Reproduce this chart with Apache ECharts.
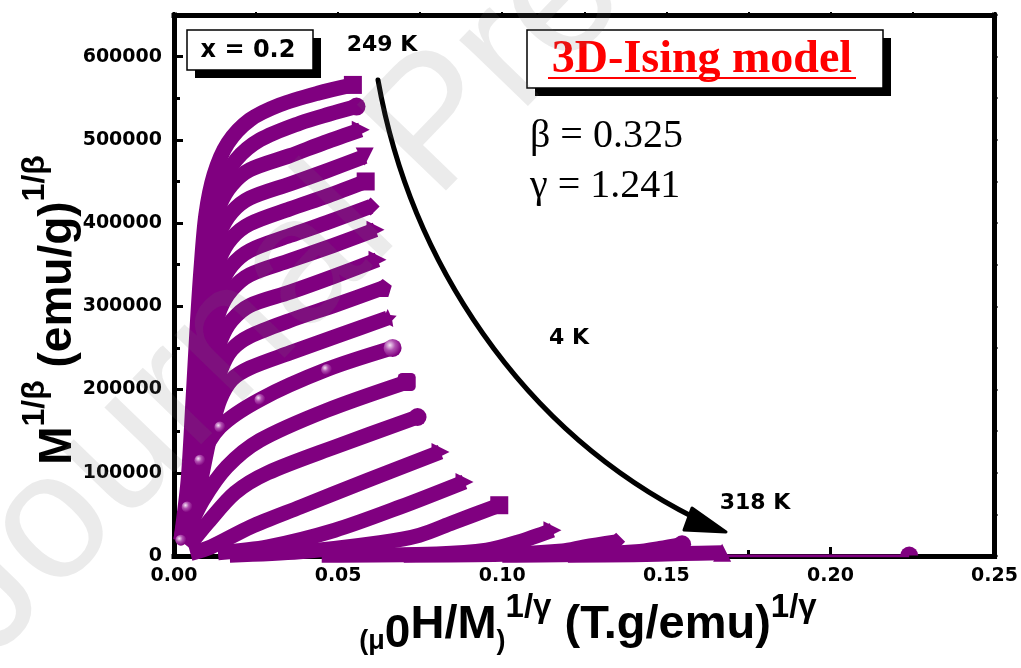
<!DOCTYPE html>
<html>
<head>
<meta charset="utf-8">
<script src="https://cdn.jsdelivr.net/npm/echarts@6/dist/echarts.min.js"></script>
<style>
html,body{margin:0;padding:0;background:#fff}
#chart{width:1021px;height:668px}
</style>
</head>
<body>
<div id="chart"></div>
<script>
// Tick labels
const xTickLabels = ['0.00', '0.05', '0.10', '0.15', '0.20', '0.25'];
const yTickLabels = ['0', '100000', '200000', '300000', '400000', '500000', '600000'];

// Modified Arrott isotherms, coldest first: [ (μ0H/M)^(1/γ), M^(1/β) ]
const iso01 = [[0.0021,19000],[0.0043,91000],[0.0058,188000],[0.0070,272000],[0.0082,344000],[0.0097,410000],[0.0122,458000],[0.0164,496000],[0.0231,524000],[0.0322,542000],[0.0438,556000],[0.0545,566000]];
const iso02 = [[0.0043,43000],[0.0064,127000],[0.0079,236000],[0.0094,332000],[0.0116,404000],[0.0146,446000],[0.0189,476000],[0.0262,500000],[0.0383,520000],[0.0474,531000],[0.0556,540000]];
const iso03 = [[0.0036,43000],[0.0058,127000],[0.0079,224000],[0.0097,320000],[0.0116,386000],[0.0140,422000],[0.0176,446000],[0.0231,464000],[0.0353,481000],[0.0460,497000],[0.0569,512000]];
const iso04 = [[0.0033,31000],[0.0055,97000],[0.0076,194000],[0.0097,290000],[0.0116,353000],[0.0140,389000],[0.0176,413000],[0.0231,430000],[0.0353,447000],[0.0467,463000],[0.0581,480000]];
const iso05 = [[0.0049,73000],[0.0073,170000],[0.0094,260000],[0.0116,320000],[0.0140,358000],[0.0176,382000],[0.0231,399000],[0.0353,417000],[0.0470,433000],[0.0584,450000]];
const iso06 = [[0.0046,55000],[0.0070,145000],[0.0094,230000],[0.0116,286000],[0.0140,323000],[0.0176,349000],[0.0231,367000],[0.0353,385000],[0.0476,402000],[0.0599,420000]];
const iso07 = [[0.0049,49000],[0.0073,133000],[0.0097,212000],[0.0119,262000],[0.0140,296000],[0.0176,320000],[0.0231,338000],[0.0353,355000],[0.0484,373000],[0.0614,392000]];
const iso08 = [[0.0049,34000],[0.0073,109000],[0.0097,182000],[0.0119,226000],[0.0143,260000],[0.0176,283000],[0.0231,301000],[0.0353,317000],[0.0487,336000],[0.0620,356000]];
const iso09 = [[0.0043,19000],[0.0070,79000],[0.0097,145000],[0.0119,190000],[0.0143,224000],[0.0176,248000],[0.0231,264000],[0.0353,283000],[0.0495,302000],[0.0636,322000]];
const iso10 = [[0.0064,53000],[0.0091,109000],[0.0116,155000],[0.0140,188000],[0.0176,212000],[0.0231,226000],[0.0353,244000],[0.0502,265000],[0.0651,286000]];
const iso11 = [[0.0021,19000],[0.0040,59000],[0.0079,115000],[0.0140,155000],[0.0262,188000],[0.0465,224000],[0.0666,250000]];
const iso12 = [[0.0040,28000],[0.0088,67000],[0.0161,107000],[0.0262,139000],[0.0465,175000],[0.0709,209000]];
const iso13 = [[0.0043,11000],[0.0103,40000],[0.0186,76000],[0.0286,100000],[0.0490,131000],[0.0742,167000]];
const iso14 = [[0.0050,3000],[0.0113,11000],[0.0234,35000],[0.0386,59000],[0.0590,91000],[0.0812,125000]];
const iso15 = [[0.0134,4000],[0.0286,11000],[0.0490,31000],[0.0690,59000],[0.0885,89000]];
const iso16 = [[0.0170,1000],[0.0383,5000],[0.0627,16000],[0.0748,25000],[0.0849,40000],[0.0991,61000]];
const iso17 = [[0.0450,1000],[0.0800,2500],[0.0952,7000],[0.1050,17000],[0.1153,31000]];
const iso18 = [[0.0700,1000],[0.1000,2000],[0.1183,6000],[0.1250,11000],[0.1347,17000]];
const iso19 = [[0.1000,800],[0.1250,2000],[0.1408,5000],[0.1480,9000],[0.1548,14000]];
const iso20 = [[0.1200,800],[0.1400,1500],[0.1550,3000],[0.1670,4000]];
const iso21 = [[0.1500,0],[0.1750,0],[0.2000,0],[0.2240,0]];

const isotherms = [iso01, iso02, iso03, iso04, iso05, iso06, iso07, iso08, iso09, iso10, iso11,
                   iso12, iso13, iso14, iso15, iso16, iso17, iso18, iso19, iso20, iso21];

// Marker shapes per isotherm (drawn at the high-field end of each band)
const STAR = 'path://M0,-10L2.9,-4L9.5,-3.1L4.8,1.5L5.9,8.1L0,5L-5.9,8.1L-4.8,1.5L-9.5,-3.1L-2.9,-4Z';
const PENT = 'path://M0,-10L9.5,-3.1L5.9,8.1L-5.9,8.1L-9.5,-3.1Z';
const DOME = 'path://M-10,0A10,10 0 0 1 10,0Z';
const markerShape = ['rect','circle','triangle','triangle','rect','diamond','triangle','triangle',PENT,STAR,'circle',
                     'roundRect','circle','triangle','triangle','rect','triangle','diamond','circle','triangle',DOME];
const markerTurn = [0,0,-90,180,0,0,-90,-90,0,0,0, 0,0,-90,-90,0,-90,0,0,0,0];

const PURPLE = '#800080';
const BALL = 10;
const ball = {type:'radial', x:0.35, y:0.35, r:0.65,
  colorStops:[{offset:0,color:'#f4e4f4'},{offset:0.45,color:'#b050b0'},{offset:1,color:PURPLE}]};

const series = isotherms.map((d, i) => {
  const last = i === isotherms.length - 1;
  const endSize = last ? [18, 9] : 18;
  return {
    type: 'line',
    data: d.map((p, j) => ({
      value: p,
      symbolSize: j === d.length - 1 ? endSize : (i === BALL ? 11 : 0)
    })),
    smooth: 0.3,
    symbol: markerShape[i],
    symbolRotate: markerTurn[i],
    symbolOffset: last ? [0, -5] : [0, 0],
    showAllSymbol: true,
    clip: true,
    lineStyle: {color: PURPLE, width: last ? 3 : 15, cap: 'butt', join: 'round'},
    itemStyle: {color: i === BALL ? ball : PURPLE},
    z: 3
  };
});

const tickFont = {fontFamily: 'DejaVu Sans', fontWeight: 'bold', fontSize: 19, color: '#000'};
const frameLine = {show: true, onZero: false, lineStyle: {color: '#000', width: 5, cap: 'square'}};
const tickIn = {show: true, inside: true, length: 9, lineStyle: {color: '#000', width: 3}};
const minorIn = {show: true, splitNumber: 2, length: 6, lineStyle: {color: '#000', width: 3}};
const tickOut = {show: true, inside: false, length: 3, lineStyle: {color: '#000', width: 2}};
const minorOut = {show: true, splitNumber: 2, length: 3, lineStyle: {color: '#000', width: 2}};

const xBase = {type: 'value', min: 0, max: 0.25, interval: 0.05, splitLine: {show: false}, axisLine: frameLine};
const yBase = {type: 'value', min: 0, max: 650000, interval: 100000, splitLine: {show: false}, axisLine: frameLine};

const txt = (x, y, text, size, extra) => ({type: 'text', x: x, y: y, z: 12, style: Object.assign({
  text: text, fontFamily: 'DejaVu Sans', fontWeight: 'bold', fontSize: size, fill: '#000',
  align: 'center', verticalAlign: 'middle'}, extra || {})});

const option = {
  animation: false,
  backgroundColor: '#fff',
  grid: {left: 174, right: 25, top: 15, bottom: 112, containLabel: false},
  xAxis: [
    Object.assign({}, xBase, {position: 'bottom', axisTick: tickIn, minorTick: minorIn,
      axisLabel: Object.assign({margin: 11, formatter: v => {
        const k = Math.round(v / 0.05);
        return Math.abs(v - k * 0.05) < 1e-9 ? xTickLabels[k] : '';
      }}, tickFont)}),
    Object.assign({}, xBase, {position: 'top', axisTick: tickOut, minorTick: minorOut, axisLabel: {show: false}})
  ],
  yAxis: [
    Object.assign({}, yBase, {position: 'left', axisTick: tickIn, minorTick: minorIn,
      axisLabel: Object.assign({margin: 12, formatter: v => {
        const k = Math.round(v / 100000);
        return (k * 100000 === v && k < yTickLabels.length) ? yTickLabels[k] : '';
      }}, tickFont)}),
    Object.assign({}, yBase, {position: 'right', axisTick: tickOut, minorTick: minorOut, axisLabel: {show: false}})
  ],
  series: series,
  graphic: [
    // sample label
    {type: 'rect', shape: {x: 195, y: 38, width: 126, height: 40}, style: {fill: '#000'}, z: 10},
    {type: 'rect', shape: {x: 187, y: 30, width: 126, height: 40}, style: {fill: '#fff', stroke: '#000', lineWidth: 1.5}, z: 11},
    txt(248, 51, 'x = 0.2', 24),
    // model label
    {type: 'rect', shape: {x: 535, y: 38, width: 356, height: 58}, style: {fill: '#000'}, z: 10},
    {type: 'rect', shape: {x: 527, y: 30, width: 356, height: 58}, style: {fill: '#fff', stroke: '#000', lineWidth: 1.5}, z: 11},
    txt(702, 60, '3D-Ising model', 46, {fontFamily: 'Liberation Serif', fill: '#ff0000'}),
    {type: 'line', z: 12, shape: {x1: 548, y1: 78, x2: 856, y2: 78}, style: {stroke: '#ff0000', lineWidth: 2}},
    // exponents
    txt(530, 136, 'β = 0.325', 40, {fontFamily: 'Liberation Serif', fontWeight: 'normal', align: 'left'}),
    txt(530, 186, 'γ = 1.241', 40, {fontFamily: 'Liberation Serif', fontWeight: 'normal', align: 'left'}),
    // temperature arrow
    {type: 'bezierCurve', z: 12, shape: {x1: 378, y1: 80, cpx1: 410, cpy1: 260, cpx2: 520, cpy2: 430, x2: 695, y2: 518},
      style: {stroke: '#000', lineWidth: 5, fill: null, lineCap: 'round'}},
    {type: 'polygon', z: 12, shape: {points: [[692, 508], [684, 530], [726, 532]]}, style: {fill: '#000', stroke: '#000', lineWidth: 3, lineJoin: 'round'}},
    txt(382, 45, '249 K', 22),
    txt(569, 338, '4 K', 22),
    txt(755, 503, '318 K', 22),
    // axis titles
    {type: 'text', x: 50, y: 310, rotation: Math.PI / 2, z: 12, style: {
      text: '{m|M}{s|1/β}{m| (emu/g)}{s|1/β}', align: 'center', verticalAlign: 'middle',
      rich: {
        m: {fontFamily: 'Liberation Sans', fontWeight: 'bold', fontSize: 46, fill: '#000', verticalAlign: 'bottom', lineHeight: 62},
        s: {fontFamily: 'Liberation Sans', fontWeight: 'bold', fontSize: 32, fill: '#000', verticalAlign: 'top', lineHeight: 62}
      }}},
    {type: 'text', x: 588, y: 624, z: 12, style: {
      text: '{p|(μ}{z|0}{m|H/M}{p|)}{s|1/γ}{m| (T.g/emu)}{s|1/γ}', align: 'center', verticalAlign: 'middle',
      rich: {
        m: {fontFamily: 'Liberation Sans', fontWeight: 'bold', fontSize: 47, fill: '#000', verticalAlign: 'bottom', lineHeight: 66, padding: [0, 0, 8, 0]},
        z: {fontFamily: 'Liberation Sans', fontWeight: 'bold', fontSize: 46, fill: '#000', verticalAlign: 'bottom', lineHeight: 66},
        p: {fontFamily: 'Liberation Sans', fontWeight: 'bold', fontSize: 27, fill: '#000', verticalAlign: 'bottom', lineHeight: 66, padding: [0, 0, 2, 0]},
        s: {fontFamily: 'Liberation Sans', fontWeight: 'bold', fontSize: 33, fill: '#000', verticalAlign: 'top', lineHeight: 66}
      }}},
    // watermark
    {type: 'text', x: 20, y: 690, rotation: 46 * Math.PI / 180, z: 20, silent: true, style: {
      text: 'Journal Pre-proof', fontFamily: 'Liberation Sans', fontSize: 180, fill: 'rgba(110,110,110,0.14)', align: 'left', verticalAlign: 'bottom'}}
  ]
};

const chart = echarts.init(document.getElementById('chart'), null, {renderer: 'canvas'});
chart.setOption(option);
</script>
</body>
</html>
